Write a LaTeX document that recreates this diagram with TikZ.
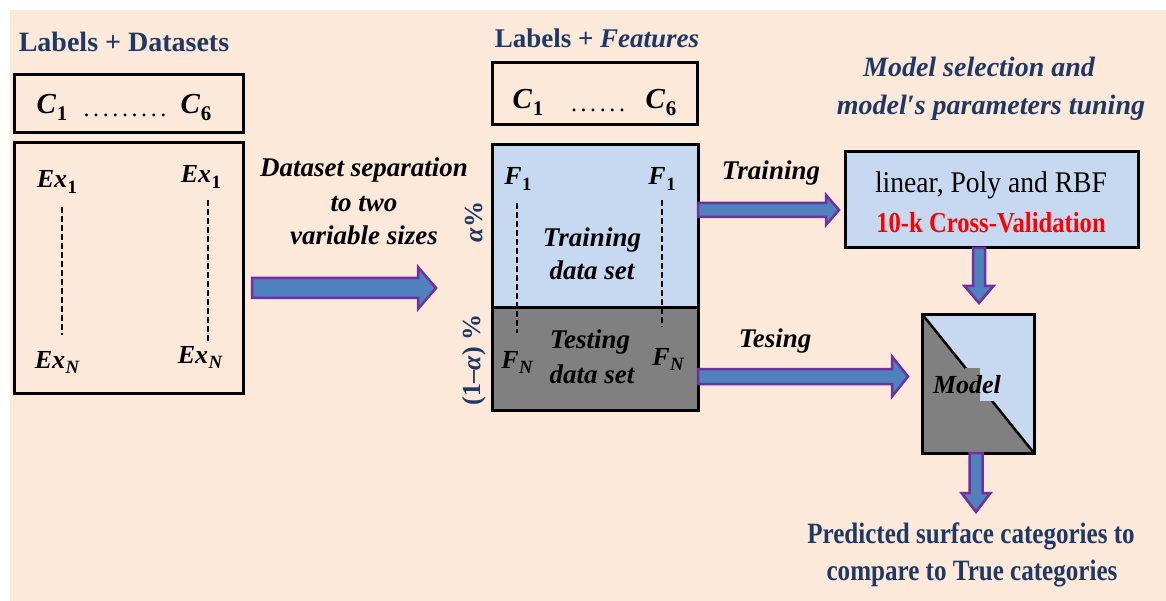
\documentclass[tikz,border=0pt]{standalone}
\usepackage{fontspec}
\setmainfont{Liberation Serif}
\newfontfamily\narrowbold[FakeStretch=0.85]{Liberation Serif}
\newfontfamily\narrowreg[FakeStretch=0.92]{Liberation Serif}
\usetikzlibrary{calc}
\definecolor{bg}{HTML}{FDE9D9}
\definecolor{lblue}{HTML}{C6D9F1}
\definecolor{dblue}{HTML}{1F3864}
\definecolor{arrowblue}{HTML}{4F81BD}
\definecolor{arrowpurple}{HTML}{7030A0}
\definecolor{dgray}{HTML}{808080}
\definecolor{tred}{HTML}{FF0000}
\newcommand\harrow[5]{%
  \draw[barrow] let \p1=(#1), \p2=(#2) in
  (\x1,\y1+#3) -- (\x2-#5,\y1+#3) -- (\x2-#5,\y1+#4) -- (\x2,\y1) --
  (\x2-#5,\y1-#4) -- (\x2-#5,\y1-#3) -- (\x1,\y1-#3) -- cycle;}
\newcommand\varrow[5]{%
  \draw[barrow] let \p1=(#1), \p2=(#2) in
  (\x1-#3,\y1) -- (\x1-#3,\y2+#5) -- (\x1-#4,\y2+#5) -- (\x1,\y2) --
  (\x1+#4,\y2+#5) -- (\x1+#3,\y2+#5) -- (\x1+#3,\y1) -- cycle;}
\newcommand\dotrow[1]{\foreach \k in {1,...,#1}{.\ifnum\k<#1\hspace{3.6pt}\fi}}
% variable with upright or italic subscript
\newcommand\mvu[2]{\textbf{\textit{#1}}\kern0.5pt\raisebox{-0.22em}{\fontsize{0.72em}{1em}\selectfont\bfseries #2}}
\newcommand\mvi[2]{\textbf{\textit{#1}}\kern0.5pt\raisebox{-0.22em}{\fontsize{0.72em}{1em}\selectfont\bfseries\itshape #2}}
\begin{document}
\begin{tikzpicture}[x=1pt,y=-1pt,
  box/.style={draw=black, line width=3pt, inner sep=0pt, outer sep=0pt},
  dashv/.style={line width=1.3pt, dash pattern=on 6pt off 3pt},
  barrow/.style={fill=arrowblue, draw=arrowpurple, line width=2.5pt, line join=miter},
  ttl/.style={text=dblue, font=\bfseries\fontsize{28}{32}\selectfont, anchor=base},
  lbl/.style={font=\bfseries\itshape\fontsize{27}{31}\selectfont, anchor=base},
  tlbl/.style={text=dblue, font=\bfseries\itshape\fontsize{27}{31}\selectfont, anchor=base},
  mthC/.style={font=\fontsize{29}{33}\selectfont, anchor=base, inner sep=0pt},
  mthE/.style={font=\fontsize{26}{30}\selectfont, anchor=base, inner sep=0pt},
  dotsty/.style={font=\fontsize{24}{28}\selectfont, anchor=base, inner sep=0pt},
  rot/.style={text=dblue, rotate=90, font=\fontsize{26}{30}\selectfont\bfseries},
]
\useasboundingbox (0,0) rectangle (1166,601);
\fill[bg] (10,10) rectangle (1166,601);

% ---------- left part ----------
\node[ttl] (tLD) at (124,52) {Labels + Datasets};
\node[box, minimum width=229, minimum height=58] (cboxL) at (129,104) {};
\node[mthC] (cL1) at (52,114) {\mvu{C}{1}};
\node[dotsty] (dL) at (125,117) {\dotrow{9}};
\node[mthC] (cL6) at (196,114) {\mvu{C}{6}};

\node[box, minimum width=229, minimum height=250] (exbox) at (129,268) {};
\node[mthE] (ex1a) at (57,188) {\mvu{Ex}{1}};
\node[mthE] (ex1b) at (201,183) {\mvu{Ex}{1}};
\node[mthE] (exNa) at (57,368) {\mvi{Ex}{N}};
\node[mthE] (exNb) at (200,363) {\mvi{Ex}{N}};
\coordinate (dla1) at (62,207); \coordinate (dla2) at (62,335);
\coordinate (dlb1) at (208,200); \coordinate (dlb2) at (208,343);
\draw[dashv] (dla1) -- (dla2);
\draw[dashv] (dlb1) -- (dlb2);

\node[lbl] (sep1) at (364,177) {Dataset separation};
\node[lbl] (sep2) at (364,212) {to two};
\node[lbl] (sep3) at (364,245) {variable sizes};
\coordinate (s1) at (252,288);
\coordinate (e1) at (436,288);
\harrow{s1}{e1}{10pt}{21pt}{18pt}

% ---------- middle part ----------
\node[ttl, font=\bfseries\fontsize{27}{31}\selectfont] (tLF) at (597,48) {Labels + \textit{Features}};
\node[box, minimum width=205, minimum height=62] (cboxM) at (594.5,94) {};
\node[mthC] (cM1) at (528,109) {\mvu{C}{1}};
\node[dotsty] (dM) at (598,112) {\dotrow{6}};
\node[mthC] (cM6) at (661,109) {\mvu{C}{6}};

\node[box, fill=lblue, minimum width=206, minimum height=163] (train) at (595,226.5) {};
\node[box, fill=dgray, minimum width=206, minimum height=102] (test) at (595,359) {};
\node[mthE] (f1a) at (518,185) {\mvu{F}{1}};
\node[mthE] (f1b) at (662,185) {\mvu{F}{1}};
\node[mthE] (fNa) at (517,368) {\mvi{F}{N}};
\node[mthE] (fNb) at (668,365) {\mvi{F}{N}};
\coordinate (dfa1) at (517,203); \coordinate (dfa2) at (517,333);
\coordinate (dfb1) at (662,200); \coordinate (dfb2) at (662,327);
\draw[dashv] (dfa1) -- (dfa2);
\draw[dashv] (dfb1) -- (dfb2);
\node[lbl] (trn1) at (592,247) {Training};
\node[lbl] (trn2) at (592,280) {data set};
\node[lbl] (tst1) at (590,348) {Testing};
\node[lbl] (tst2) at (592,383) {data set};

\node[rot] (alpha) at (474,222) {\textit{α}\%};
\node[rot] (malpha) at (474,360) {(1–\textit{α}) \%};

% ---------- right part ----------
\node[tlbl, font=\bfseries\itshape\fontsize{28}{32}\selectfont] (ms1) at (979,77) {Model selection and};
\node[tlbl, font=\bfseries\itshape\fontsize{28}{32}\selectfont] (ms2) at (991,115) {model′s parameters tuning};

\node[box, fill=lblue, minimum width=293, minimum height=96] (lin) at (991.5,200) {};
\node[anchor=base, font=\narrowreg\fontsize{30}{34}\selectfont] (lin1) at (991,193) {linear, Poly and RBF};
\node[anchor=base, text=tred, font=\narrowbold\bfseries\fontsize{29}{33}\selectfont] (lin2) at (991,233) {10-k Cross-Validation};

\node[lbl] (trlab) at (771,180) {Training};
\coordinate (e2) at (839,210);
\harrow{train.east |- e2}{e2}{7pt}{15pt}{13pt}

\node[lbl] (tslab) at (775,347) {Tesing};
\coordinate (e3) at (908,376.5);
\harrow{test.east |- e3}{e3}{7.5pt}{20pt}{16pt}

\coordinate (e4) at (979,303);
\varrow{lin.south -| e4}{e4}{6pt}{14.5pt}{17pt}

\path node[minimum width=112, minimum height=139, inner sep=0pt, outer sep=0pt] (model) at (978,383.5) {};
\fill[dgray] (model.north west) -- (model.south east) -- (model.south west) -- cycle;
\fill[lblue] (model.north west) -- (model.north east) -- (model.south east) -- cycle;
\draw[line width=2.5pt] (model.north west) -- (model.south east);
\fill[dgray] (965,368) rectangle (980,401);
\fill[lblue] (980,368) rectangle (1003,401);
\draw[line width=3pt] (model.north west) rectangle (model.south east);
\node[lbl, font=\bfseries\itshape\fontsize{26}{30}\selectfont] (mlab) at (967,393) {Model};

\coordinate (e5) at (976,512);
\varrow{model.south -| e5}{e5}{6.5pt}{14.5pt}{19pt}

\node[anchor=base, text=dblue, font=\narrowbold\bfseries\fontsize{29.5}{34}\selectfont] (pr1) at (971,543) {Predicted surface categories to};
\node[anchor=base, text=dblue, font=\narrowbold\bfseries\fontsize{29.5}{34}\selectfont] (pr2) at (972,580) {compare to True categories};
\end{tikzpicture}
\end{document}
